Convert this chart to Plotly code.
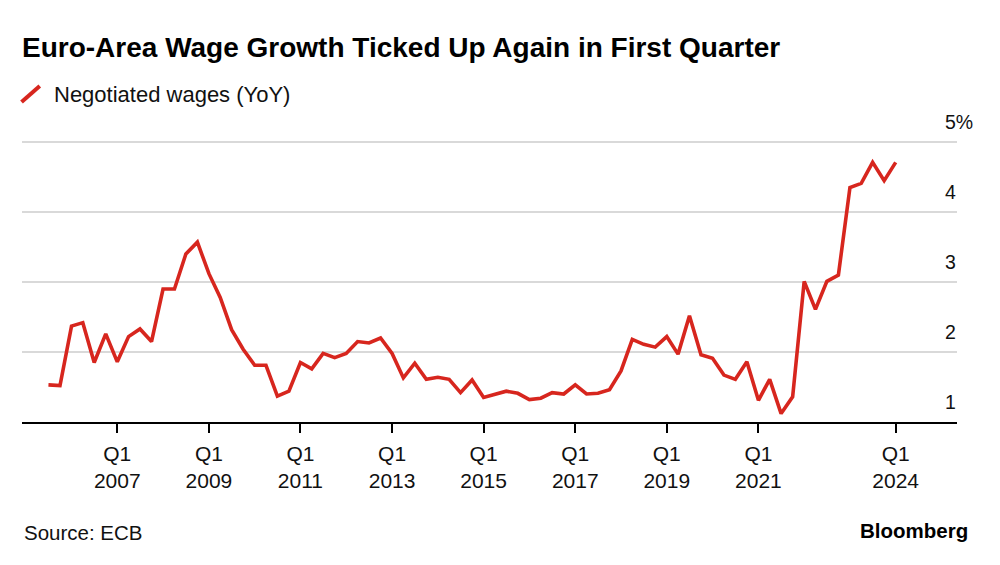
import pandas as pd
import plotly.graph_objs as go

# Euro-area negotiated wages, YoY %, quarterly
quarters = [
    "2005Q3", "2005Q4",
    "2006Q1", "2006Q2", "2006Q3", "2006Q4",
    "2007Q1", "2007Q2", "2007Q3", "2007Q4",
    "2008Q1", "2008Q2", "2008Q3", "2008Q4",
    "2009Q1", "2009Q2", "2009Q3", "2009Q4",
    "2010Q1", "2010Q2", "2010Q3", "2010Q4",
    "2011Q1", "2011Q2", "2011Q3", "2011Q4",
    "2012Q1", "2012Q2", "2012Q3", "2012Q4",
    "2013Q1", "2013Q2", "2013Q3", "2013Q4",
    "2014Q1", "2014Q2", "2014Q3", "2014Q4",
    "2015Q1", "2015Q2", "2015Q3", "2015Q4",
    "2016Q1", "2016Q2", "2016Q3", "2016Q4",
    "2017Q1", "2017Q2", "2017Q3", "2017Q4",
    "2018Q1", "2018Q2", "2018Q3", "2018Q4",
    "2019Q1", "2019Q2", "2019Q3", "2019Q4",
    "2020Q1", "2020Q2", "2020Q3", "2020Q4",
    "2021Q1", "2021Q2", "2021Q3", "2021Q4",
    "2022Q1", "2022Q2", "2022Q3", "2022Q4",
    "2023Q1", "2023Q2", "2023Q3", "2023Q4",
    "2024Q1",
]
negotiated_wages = [
    1.53, 1.52,
    2.37, 2.42, 1.85, 2.26,
    1.86, 2.22, 2.33, 2.15,
    2.90, 2.90, 3.40, 3.57,
    3.12, 2.78, 2.32, 2.04,
    1.81, 1.81, 1.37, 1.44,
    1.85, 1.76, 1.98, 1.92,
    1.98, 2.15, 2.13, 2.20,
    1.98, 1.63, 1.84, 1.61,
    1.64, 1.61, 1.42, 1.60,
    1.35, 1.40, 1.44, 1.41,
    1.32, 1.34, 1.42, 1.40,
    1.53, 1.40, 1.41, 1.46,
    1.73, 2.18, 2.11, 2.07,
    2.22, 1.97, 2.52, 1.96,
    1.91, 1.67, 1.61, 1.86,
    1.31, 1.61, 1.12, 1.36,
    3.01, 2.61, 3.01, 3.10,
    4.35, 4.41, 4.71, 4.45,
    4.71,
]

x_tick_quarters = ["2007Q1", "2009Q1", "2011Q1", "2013Q1", "2015Q1",
                   "2017Q1", "2019Q1", "2021Q1", "2024Q1"]
y_tick_vals = [1, 2, 3, 4, 5]
y_tick_text = ["1", "2", "3", "4", "5%"]

RED = "#d7261e"
FONT = "Liberation Sans"

dates = pd.PeriodIndex(quarters, freq="Q").to_timestamp()
tick_dates = pd.PeriodIndex(x_tick_quarters, freq="Q").to_timestamp()
tick_text = [f"Q{q[-1]}<br>{q[:4]}" for q in x_tick_quarters]

fig = go.Figure()
fig.add_trace(go.Scatter(
    x=dates, y=negotiated_wages, mode="lines",
    line=dict(color=RED, width=3.6),
    name="Negotiated wages (YoY)", showlegend=False,
))

# page body adds 8px offset, so margins are shifted to compensate
fig.update_layout(
    width=1000, height=565,
    margin=dict(l=14, r=51, t=132, b=151),
    paper_bgcolor="white", plot_bgcolor="white",
    font=dict(family=FONT, color="#111111", size=19),
    title=dict(
        text="<b>Euro-Area Wage Growth Ticked Up Again in First Quarter</b>",
        x=14 / 1000, xanchor="left", xref="container",
        y=1 - 39.5 / 565, yanchor="middle", yref="container",
        font=dict(family=FONT, size=28, color="#000000"),
    ),
    xaxis=dict(
        type="date",
        range=["2004-12-02", "2025-05-04"],
        tickvals=tick_dates, ticktext=tick_text,
        ticks="outside", ticklen=9, tickwidth=1.5, tickcolor="#000000",
        ticklabelstandoff=3,
        showline=True, linecolor="#000000", linewidth=1.5,
        showgrid=False, zeroline=False,
        tickfont=dict(size=21, color="#111111"),
    ),
    yaxis=dict(
        range=[1, 5.03],
        side="right",
        tickvals=y_tick_vals, ticktext=y_tick_text,
        ticklabelposition="outside top",
        ticklabelstandoff=-13, ticklabelshift=-6,
        ticks="",
        showgrid=True, gridcolor="#d9d9d9", gridwidth=1.5,
        zeroline=False, showline=False,
        tickfont=dict(size=19.5, color="#111111"),
    ),
)

# legend: red slash plus label, as in the original (plot top sits at y=140 on screen)
fig.add_shape(type="line", xref="paper", yref="paper",
              x0=-0.0005, y0=1 + (140 - 102) / 282, x1=0.019, y1=1 + (140 - 86) / 282,
              line=dict(color=RED, width=4))
fig.add_annotation(text="Negotiated wages (YoY)", xref="paper", yref="paper",
                   x=30 / 935, y=1 + (140 - 94) / 282, xanchor="left", yanchor="middle",
                   showarrow=False, font=dict(size=22, color="#111111"))

fig.add_annotation(text="Source: ECB", xref="paper", yref="paper",
                   x=0, y=-(532 - 422) / 282, xanchor="left", yanchor="middle",
                   showarrow=False, font=dict(size=20.5, color="#111111"))
fig.add_annotation(text="<b>Bloomberg</b>", xref="paper", yref="paper",
                   x=(970 - 22) / 935, y=-(530 - 422) / 282, xanchor="right", yanchor="middle",
                   showarrow=False, font=dict(size=20.5, color="#000000"))

fig.write_html("out.html")
